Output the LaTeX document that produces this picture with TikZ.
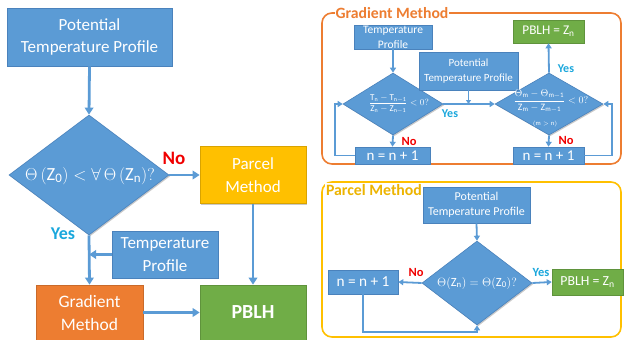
\documentclass[tikz,border=0pt]{standalone}
\usepackage{amsmath}
\usepackage{fontspec}
\setmainfont{Carlito}
\usetikzlibrary{shapes.geometric,arrows.meta,shadows}
\definecolor{bl}{HTML}{5B9BD5}
\definecolor{bldark}{HTML}{4A82BC}
\definecolor{orng}{HTML}{ED7D31}
\definecolor{grn}{HTML}{70AD47}
\definecolor{ylw}{HTML}{FFC000}
\definecolor{gold}{HTML}{EDB400}
\definecolor{yescol}{HTML}{1AA7DC}
\definecolor{nocol}{HTML}{F00000}
\begin{document}
\begin{tikzpicture}[x=1pt,y=-1pt,
  shd/.style={drop shadow={shadow xshift=1.2pt,shadow yshift=-1.2pt,opacity=0.3,fill=black!70}},
  box/.style={rectangle,fill=bl,draw=bldark,line width=0.6pt,text=white,align=center,inner sep=0pt,shd},
  dia/.style={diamond,fill=bl,draw=bldark,line width=0.6pt,inner sep=0pt,shd},
  dtext/.style={text=white,align=center,inner sep=0pt},
  arrL/.style={draw=bl,line width=2.8pt,-{Triangle[length=7pt,width=8.5pt]}},
  arrS/.style={draw=bl,line width=1.8pt,-{Triangle[length=5pt,width=6pt]}},
  nolab/.style={text=nocol,inner sep=0pt},
  yeslab/.style={text=yescol,inner sep=0pt},
  panel/.style={rounded corners=10pt,line width=1.6pt}
]
\useasboundingbox (0,0) rectangle (627,340);

% ---------------- Left flowchart ----------------
\node[box,minimum width=165pt,minimum height=58pt,font=\fontsize{17}{22}\selectfont] (pt1) at (89.5,37) {Potential\\Temperature Profile};
\node[dia,minimum width=160pt,minimum height=120pt] (d1) at (89,175) {};
\node[dtext,font=\fontsize{18.5}{22}\selectfont] (d1t) at (90,176) {$\Theta\,(\mathrm{Z_0}) < \forall\,\Theta\,(\mathrm{Z_n})?$};
\node[box,fill=ylw,draw=ylw!85!black,minimum width=106pt,minimum height=57pt,font=\fontsize{17}{23}\selectfont] (parcel) at (253,175) {Parcel\\Method};
\node[box,minimum width=106pt,minimum height=47pt,font=\fontsize{17}{23}\selectfont] (tp) at (165,254.5) {Temperature\\Profile};
\node[box,fill=orng,draw=orng!85!black,minimum width=107pt,minimum height=55pt,font=\fontsize{17.5}{23}\selectfont] (grad) at (89.5,312.5) {Gradient\\Method};
\node[box,fill=grn,draw=grn!85!black,minimum width=106pt,minimum height=55pt,font=\fontsize{20}{22}\selectfont\bfseries] (pblh) at (253,312.5) {PBLH};

\draw[arrL] (pt1.south) -- (d1.north);
\draw[arrL] (d1.east) -- (parcel.west);
\draw[arrL] (d1.south) -- (grad.north);
\draw[arrL] (tp.west) -- (tp.west -| d1.south);
\draw[arrL] (grad.east) -- (pblh.west);
\draw[arrL] (parcel.south) -- (pblh.north);

\node[nolab,font=\fontsize{19}{19}\selectfont\bfseries] (no1) at (174,158) {No};
\node[yeslab,font=\fontsize{18}{18}\selectfont\bfseries] (yes1) at (63,234) {Yes};

% ---------------- Gradient Method panel ----------------
\draw[panel,draw=orng] (322,13) rectangle (621,164);
\node[fill=white,text=orng,font=\fontsize{15.7}{16}\selectfont\bfseries,inner sep=1pt] (gtitle) at (392,13) {Gradient Method};

\node[box,minimum width=78pt,minimum height=24pt,font=\fontsize{11.5}{15}\selectfont] (tp2) at (393,37) {Temperature\\Profile};
\node[dia,minimum width=100pt,minimum height=62pt] (d2) at (393,104) {};
\node[dtext,font=\fontsize{9}{10}\selectfont] (d2t) at (399,104) {$\dfrac{\mathrm{T_n}-\mathrm{T_{n-1}}}{\mathrm{Z_n}-\mathrm{Z_{n-1}}} < 0?$};
\node[box,minimum width=99pt,minimum height=38pt,font=\fontsize{11}{15}\selectfont] (pt2) at (468.5,71) {Potential\\Temperature Profile};
\node[dia,minimum width=108pt,minimum height=62pt] (d3) at (549,104) {};
\node[dtext,font=\fontsize{9.8}{11}\selectfont] (d3t) at (551,101) {$\dfrac{\Theta_\mathrm{m}-\Theta_\mathrm{m-1}}{\mathrm{Z_m}-\mathrm{Z_{m-1}}} < 0?$};
\node[dtext,font=\fontsize{6.5}{7}\selectfont] (d3c) at (545,124) {$(\mathrm{m}>\mathrm{n})$};
\node[box,fill=grn,draw=grn!85!black,minimum width=71pt,minimum height=23pt,font=\fontsize{13.3}{14}\selectfont] (pblh2) at (548.5,31.5) {PBLH = Z\textsubscript{n}};
\node[box,minimum width=75pt,minimum height=17pt,font=\fontsize{15}{15}\selectfont] (nb1) at (392.5,155.5) {n = n + 1};
\node[box,minimum width=71pt,minimum height=17pt,font=\fontsize{15}{15}\selectfont] (nb2) at (548.5,155.5) {n = n + 1};

\draw[arrS] (tp2.south) -- (d2.north);
\draw[arrS] (d2.east) -- (d3.west);
\draw[arrS,-{Triangle[length=4pt,width=5pt]}] (pt2.south) -- (pt2.south |- d2.east);
\draw[arrS] (d3.north) -- (pblh2.south);
\draw[arrS] (d2.south) -- (nb1.north);
\draw[arrS] (d3.south) -- (nb2.north);
\draw[arrS] (nb1.west) -- (335,155.5) |- (d2.west);
\draw[arrS] (nb2.east) -- (612,155.5) |- (d3.east);

\node[yeslab,font=\fontsize{12}{12}\selectfont\bfseries] (yes2) at (450,114) {Yes};
\node[yeslab,font=\fontsize{12}{12}\selectfont\bfseries] (yes3) at (566,69) {Yes};
\node[nolab,font=\fontsize{12.5}{12}\selectfont\bfseries] (no2) at (409,141) {No};
\node[nolab,font=\fontsize{12.5}{12}\selectfont\bfseries] (no3) at (566,140) {No};

% ---------------- Parcel Method panel ----------------
\draw[panel,draw=ylw] (322,182) rectangle (621,337);
\node[fill=white,text=gold,font=\fontsize{15.8}{16}\selectfont\bfseries,inner sep=1pt] (ptitle) at (374,190) {Parcel Method};

\node[box,minimum width=107pt,minimum height=36pt,font=\fontsize{12}{15}\selectfont] (pt3) at (476.5,205) {Potential\\Temperature Profile};
\node[dia,minimum width=110pt,minimum height=84pt] (d4) at (477,283) {};
\node[dtext,font=\fontsize{12.5}{13}\selectfont] (d4t) at (477,283) {$\Theta(\mathrm{Z_n}) = \Theta(\mathrm{Z_0})?$};
\node[box,minimum width=70pt,minimum height=24pt,font=\fontsize{15.3}{16}\selectfont] (nb3) at (363,282) {n = n + 1};
\node[box,fill=grn,draw=grn!85!black,minimum width=71pt,minimum height=26pt,font=\fontsize{13.8}{14}\selectfont] (pblh3) at (587.5,282) {PBLH = Z\textsubscript{n}};

\draw[arrS] (pt3.south) -- (d4.north);
\draw[arrS] (d4.west) -- (nb3.east);
\draw[arrS] (d4.east) -- (pblh3.west);
\draw[arrS] (nb3.south) -- (363,332) -| (d4.south);

\node[nolab,font=\fontsize{12.5}{12}\selectfont\bfseries] (no4) at (416,272) {No};
\node[yeslab,font=\fontsize{12.5}{12}\selectfont\bfseries] (yes4) at (541,272) {Yes};
\end{tikzpicture}
\end{document}
